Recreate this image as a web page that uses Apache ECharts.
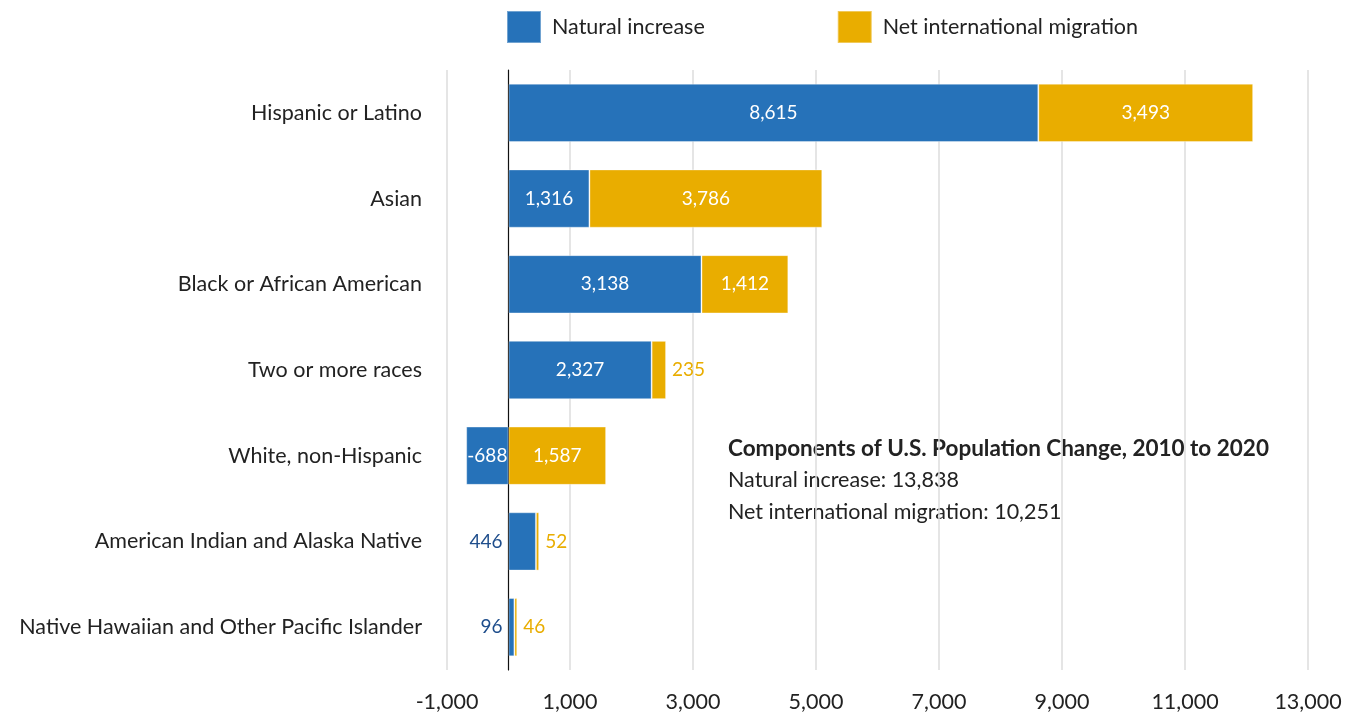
<!DOCTYPE html>
<html><head><meta charset="utf-8">
<script src="https://cdn.jsdelivr.net/npm/echarts@6/dist/echarts.min.js"></script>
<style>html,body{margin:0;padding:0;background:#fff}#c{width:1357px;height:717px}</style>
</head><body><div id="c"></div>
<script>
const categories = ["Hispanic or Latino","Asian","Black or African American","Two or more races","White, non-Hispanic","American Indian and Alaska Native","Native Hawaiian and Other Pacific Islander"];
const naturalIncrease = [8615, 1316, 3138, 2327, -688, 446, 96];
const netMigration = [3493, 3786, 1412, 235, 1587, 52, 46];
const seriesNames = ["Natural increase", "Net international migration"];
const noteLines = ["Components of U.S. Population Change, 2010 to 2020", "Natural increase: 13,838", "Net international migration: 10,251"];

const BLUE = '#2672b9', GOLD = '#e9ad00', DARKBLUE = '#1f4e8c';
const FONT = 'Lato';
const FS = 21.5;
const fmt = v => v.toLocaleString('en-US');
const SMALL = 600;

function items(arr, outsidePos, outsideColor) {
  return arr.map(v => {
    const small = Math.abs(v) < SMALL;
    return {
      value: v,
      label: small ? {position: outsidePos, color: outsideColor} : {position: 'inside', color: '#fff'}
    };
  });
}

const chart = echarts.init(document.getElementById('c'));
chart.setOption({
  animation: false,
  textStyle: {fontFamily: FONT},
  legend: {
    left: 506, top: 10, padding: 0, itemWidth: 34, itemHeight: 32, itemGap: 132,
    icon: 'rect', textStyle: {fontSize: FS, color: '#222', fontFamily: FONT, padding: [0, 0, 0, 6]},
    data: seriesNames
  },
  grid: {left: 447, right: 49, top: 70, bottom: 47, containLabel: false},
  xAxis: {
    type: 'value', min: -1000, max: 13000, interval: 2000,
    axisLine: {show: false}, axisTick: {show: false},
    splitLine: {show: true, lineStyle: {color: '#dcdcdc', width: 1.5}},
    axisLabel: {fontSize: FS, color: '#222', margin: 21, fontFamily: FONT, formatter: v => fmt(v)}
  },
  yAxis: {
    type: 'category', inverse: true, data: categories,
    axisLine: {show: true, onZero: true, lineStyle: {color: '#111', width: 1.2}},
    axisTick: {show: false},
    axisLabel: {fontSize: FS, color: '#222', margin: 25, fontFamily: FONT}
  },
  series: [
    {
      name: seriesNames[0], type: 'bar', stack: 'tot', barWidth: '68%',
      itemStyle: {color: BLUE, borderColor: 'rgba(255,255,255,0.35)', borderWidth: 1},
      label: {show: true, fontSize: 19, fontFamily: FONT, distance: 6, formatter: p => fmt(p.value)},
      data: items(naturalIncrease, 'left', DARKBLUE),
      z: 3
    },
    {
      name: seriesNames[1], type: 'bar', stack: 'tot', barWidth: '68%',
      itemStyle: {color: GOLD, borderColor: 'rgba(255,255,255,0.35)', borderWidth: 1},
      label: {show: true, fontSize: 19, fontFamily: FONT, distance: 6, formatter: p => fmt(p.value)},
      data: items(netMigration, 'right', GOLD),
      z: 3
    }
  ],
  graphic: noteLines.map((t, i) => ({
    type: 'text', left: 728, top: 437 + i * 32,
    style: {text: t, fontSize: i === 0 ? 22.5 : FS, fontWeight: i === 0 ? 'bold' : 'normal', fill: '#222', fontFamily: FONT}
  }))
});
</script></body></html>
